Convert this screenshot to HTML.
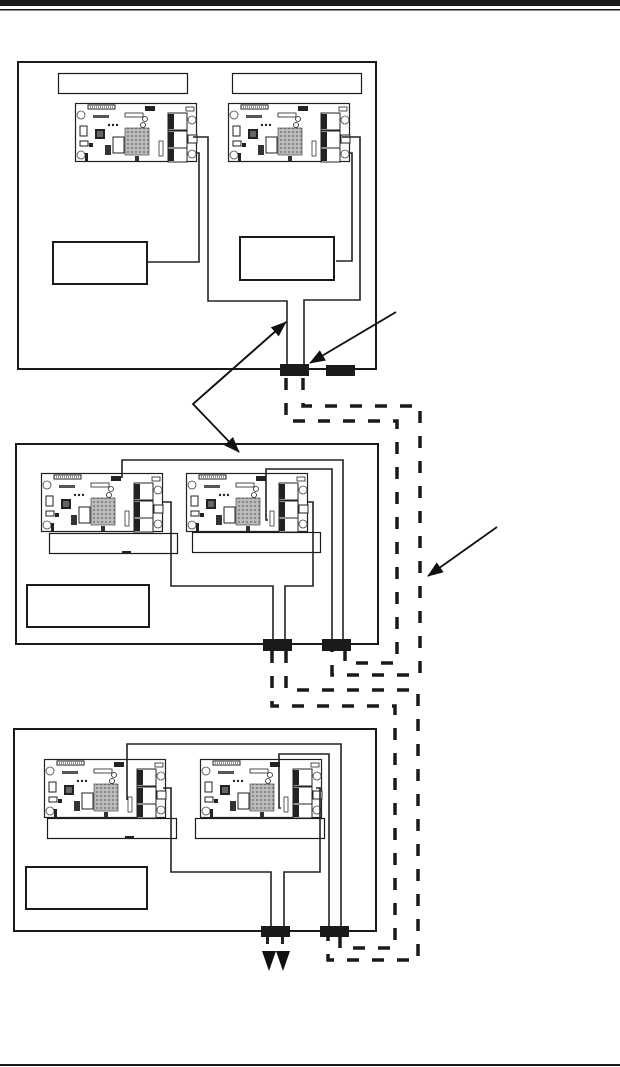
<!DOCTYPE html>
<html><head><meta charset="utf-8"><style>
html,body{margin:0;padding:0;background:#fff;}
svg{display:block;}
</style></head><body>
<svg width="620" height="1067" viewBox="0 0 620 1067" xmlns="http://www.w3.org/2000/svg">
<defs>
<pattern id="grid" width="4" height="4" patternUnits="userSpaceOnUse">
<rect width="4" height="4" fill="#bbb"/><rect width="2" height="2" fill="#888"/>
</pattern>
<g id="board">
<rect x="0.5" y="0.5" width="121" height="58" fill="#fff" stroke="#222" stroke-width="1.2"/>
<rect x="13" y="2" width="27" height="4" fill="#fff" stroke="#222" stroke-width="1"/>
<line x1="15" y1="4" x2="38" y2="4" stroke="#222" stroke-width="1" stroke-dasharray="1 1"/>
<rect x="50" y="10" width="18" height="4" fill="#fff" stroke="#222" stroke-width="0.8"/>
<rect x="70" y="3" width="10" height="5" fill="#222"/>
<circle cx="6" cy="12" r="4" fill="#fff" stroke="#444" stroke-width="0.8"/>
<circle cx="6" cy="52" r="4" fill="#fff" stroke="#444" stroke-width="0.8"/>
<circle cx="117" cy="17" r="4" fill="#fff" stroke="#444" stroke-width="0.8"/>
<circle cx="117" cy="51" r="4" fill="#fff" stroke="#444" stroke-width="0.8"/>
<rect x="5" y="23" width="7" height="10" fill="#fff" stroke="#222" stroke-width="1"/>
<rect x="20" y="26" width="10" height="10" fill="#222"/><rect x="22" y="28" width="6" height="6" fill="#666"/>
<rect x="18" y="12" width="16" height="3" fill="#555"/>
<rect x="50" y="25" width="24" height="27" fill="url(#grid)" stroke="#333" stroke-width="0.6"/>
<rect x="38" y="34" width="11" height="16" fill="#fff" stroke="#222" stroke-width="1"/>
<rect x="30" y="42" width="6" height="10" fill="#333"/>
<rect x="5" y="38" width="8" height="5" fill="#fff" stroke="#222" stroke-width="1"/>
<rect x="14" y="40" width="4" height="4" fill="#222"/>
<rect x="10" y="50" width="3" height="8" fill="#222"/>
<rect x="60" y="53" width="4" height="5" fill="#333"/>
<circle cx="34" cy="22" r="1.2" fill="#222"/><circle cx="38" cy="22" r="1.2" fill="#222"/><circle cx="42" cy="22" r="1.2" fill="#222"/>
<circle cx="70" cy="16" r="2.5" fill="#fff" stroke="#222" stroke-width="0.8"/>
<circle cx="68" cy="22" r="2.5" fill="#fff" stroke="#222" stroke-width="0.8"/>
<rect x="84" y="38" width="4" height="15" fill="#fff" stroke="#333" stroke-width="0.8"/>
<rect x="93" y="10" width="19" height="17" fill="#fff" stroke="#222" stroke-width="1"/>
<rect x="93" y="28" width="19" height="17" fill="#fff" stroke="#222" stroke-width="1"/>
<rect x="93" y="45" width="19" height="14" fill="#fff" stroke="#222" stroke-width="1"/>
<rect x="93" y="11" width="6" height="15" fill="#222"/>
<rect x="93" y="29" width="6" height="15" fill="#222"/>
<rect x="93" y="46" width="6" height="12" fill="#222"/>
<rect x="111" y="4" width="8" height="4" fill="#fff" stroke="#222" stroke-width="0.8"/>
<rect x="113" y="32" width="9" height="8" fill="#fff" stroke="#222" stroke-width="1"/>
</g>
<marker id="ah" markerWidth="10" markerHeight="10" refX="9" refY="5" orient="auto" markerUnits="userSpaceOnUse">
<path d="M0,1 L10,5 L0,9 z" fill="#111"/>
</marker>
<marker id="ah2" markerWidth="16" markerHeight="14" refX="15" refY="7" orient="auto" markerUnits="userSpaceOnUse">
<path d="M0,1 L16,7 L0,13 z" fill="#111"/>
</marker>
</defs>

<!-- header rules -->
<rect x="0" y="0" width="620" height="6" fill="#1a1a1a"/>
<rect x="0" y="9" width="620" height="1.5" fill="#1a1a1a"/>
<rect x="0" y="1064" width="620" height="2" fill="#1a1a1a"/>

<g fill="none" stroke="#1a1a1a">
<!-- Box 1 -->
<rect x="18" y="62" width="358" height="307" stroke-width="2"/>
<rect x="58.5" y="73.5" width="129" height="20" stroke-width="1.2"/>
<rect x="232.5" y="73.5" width="129" height="20" stroke-width="1.2"/>
<rect x="53" y="242" width="94" height="42" stroke-width="2"/>
<rect x="240" y="237" width="94" height="43" stroke-width="2"/>
</g>
<use href="#board" x="75" y="103"/>
<use href="#board" x="228" y="103"/>
<g fill="none" stroke="#222" stroke-width="1.6">
<polyline points="193,137 208,137 208,301 287,301 287,368"/>
<polyline points="197,153 199,153 199,262 148,262"/>
<polyline points="342,137 360,137 360,300 304,300 304,368"/>
<polyline points="350,153 352,153 352,261 336,261"/>
</g>
<rect x="280" y="364" width="29" height="12" fill="#1a1a1a"/>
<rect x="326" y="365" width="29" height="11" fill="#1a1a1a"/>

<!-- Box 2 -->
<g fill="none" stroke="#1a1a1a">
<rect x="16" y="444" width="362" height="200" stroke-width="2"/>
<rect x="49.5" y="533.5" width="128" height="20" stroke-width="1.2"/>
<rect x="192.5" y="532.5" width="128" height="20" stroke-width="1.2"/>
<rect x="27" y="585" width="122" height="42" stroke-width="2"/>
</g>
<rect x="122" y="551" width="9" height="3" fill="#222"/>
<use href="#board" x="41" y="473"/>
<use href="#board" x="186" y="473"/>
<g fill="none" stroke="#222" stroke-width="1.6">
<polyline points="122,478 122,460 343,460 343,642"/>
<polyline points="268,520 266,520 266,469 332,469 332,642"/>
<polyline points="163,502 171,502 171,586 273,586 273,642"/>
<polyline points="307,502 313,502 313,586 285,586 285,642"/>
</g>
<rect x="263" y="639" width="29" height="12" fill="#1a1a1a"/>
<rect x="322" y="639" width="29" height="12" fill="#1a1a1a"/>

<!-- Box 3 -->
<g fill="none" stroke="#1a1a1a">
<rect x="14" y="729" width="362" height="202" stroke-width="2"/>
<rect x="47.5" y="818.5" width="129" height="20" stroke-width="1.2"/>
<rect x="195.5" y="818.5" width="129" height="20" stroke-width="1.2"/>
<rect x="26" y="867" width="121" height="42" stroke-width="2"/>
</g>
<rect x="125" y="836" width="9" height="3" fill="#222"/>
<use href="#board" x="44" y="759"/>
<use href="#board" x="200" y="759"/>
<g fill="none" stroke="#222" stroke-width="1.6">
<polyline points="127,800 127,744 341,744 341,928"/>
<polyline points="281,808 279,808 279,754 329,754 329,928"/>
<polyline points="163,788 171,788 171,872 271,872 271,928"/>
<polyline points="316,788 320,788 320,872 284,872 284,928"/>
</g>
<rect x="261" y="926" width="29" height="11" fill="#1a1a1a"/>
<rect x="320" y="926" width="29" height="11" fill="#1a1a1a"/>
<path d="M262,951 L276,951 L269,971 z" fill="#111"/>
<path d="M276,951 L290,951 L283,971 z" fill="#111"/>
<rect x="266" y="937" width="3" height="7" fill="#222"/><rect x="281" y="937" width="3" height="7" fill="#222"/>

<!-- dashed cables -->
<g fill="none" stroke="#1a1a1a" stroke-width="3.5" stroke-dasharray="12 13">
<polyline points="286,378 286,421 397,421 397,663 345,663 345,651"/>
<polyline points="303,378 303,406 420,406 420,675 332,675 332,651"/>
<polyline points="286,651 286,690 418,690 418,960 328,960 328,937"/>
<polyline points="272,651 272,706 395,706 395,948 340,948 340,937"/>
</g>

<!-- arrows -->
<g fill="none" stroke="#111" stroke-width="1.8">
<line x1="396" y1="312" x2="310" y2="363" marker-end="url(#ah2)"/>
<polyline points="286,322 193,404 239,452" marker-end="url(#ah2)"/>
<line x1="193" y1="404" x2="286" y2="322" marker-end="url(#ah2)"/>
<line x1="497" y1="527" x2="428" y2="576" marker-end="url(#ah2)"/>
</g>
</svg>
</body></html>
